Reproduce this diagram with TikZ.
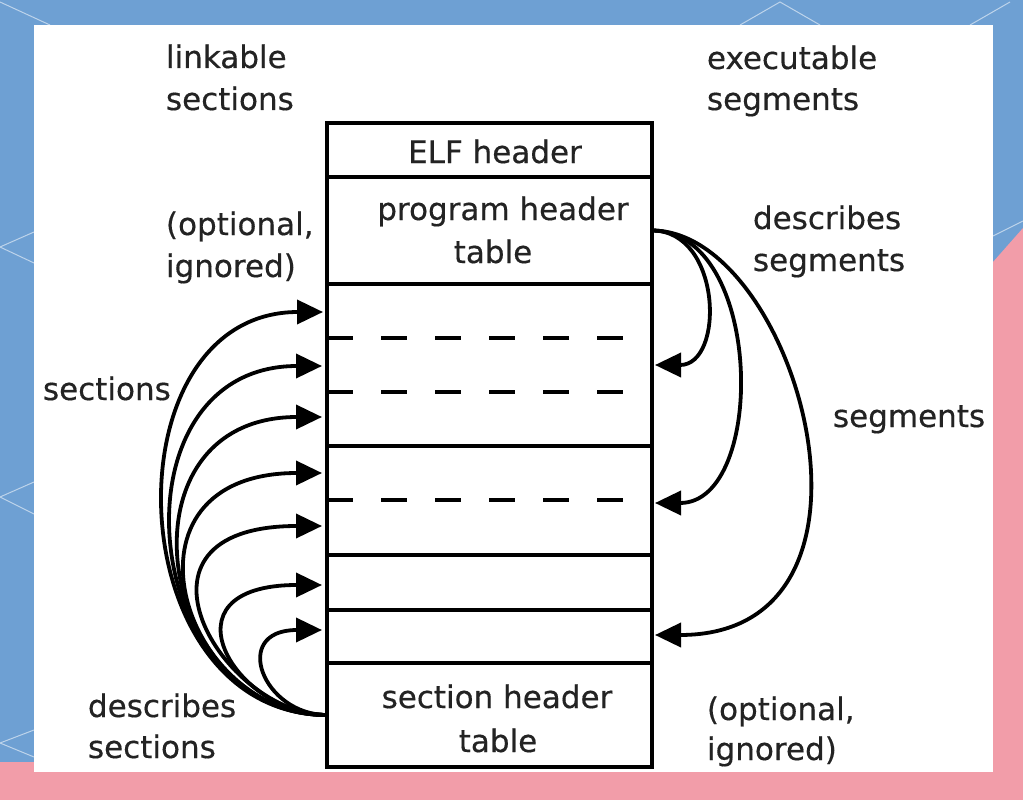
\documentclass[tikz,border=0pt]{standalone}
\usepackage{fontspec}
\setmainfont{DejaVu Sans}
\newfontfamily\dvs{DejaVu Sans}[FakeBold=0.4]
\usetikzlibrary{arrows.meta}
\definecolor{bgblue}{HTML}{6EA0D3}
\definecolor{bgpink}{HTML}{F29DA9}
\definecolor{txt}{HTML}{232323}
\begin{document}
\begin{tikzpicture}[x=1pt,y=-1pt,
  lbl/.style={anchor=base west, inner sep=0pt, outer sep=0pt, text=txt, font=\dvs\fontsize{31}{40}\selectfont},
  ctr/.style={anchor=base, inner sep=0pt, outer sep=0pt, text=txt, font=\dvs\fontsize{31}{40}\selectfont},
  part/.style={draw=black, line width=3.8pt, minimum width=325pt, inner sep=0pt, outer sep=0pt},
  divline/.style={line width=4pt, dash pattern=on 26pt off 28pt},
  arr/.style={line width=3.8pt, -{Triangle[length=26pt,width=24pt]}},
  lattice/.style={draw=white, opacity=0.55, line width=1pt},
]
\useasboundingbox (0,0) rectangle (1023,800);
% background
\fill[bgblue] (0,0) rectangle (1023,800);
\fill[bgpink] (0,800) -- (0,762) -- (993,762) -- (993,262) -- (1023,228) -- (1023,800) -- cycle;
\path[lattice] (0,2) -- (50,25);
\path[lattice] (34,232) -- (0,247) -- (34,263);
\path[lattice] (34,482) -- (0,497) -- (34,514);
\path[lattice] (34,730) -- (0,743) -- (34,757);
\path[lattice] (740,25) -- (780,2) -- (820,25);
\path[lattice] (970,25) -- (1010,2);
\path[lattice] (993,236) -- (1023,221);
% white panel
\fill[white] (34,25) rectangle (993,772);

% layout parts
\node[part, minimum height=54pt]  (elf) at (489.5,150) {};
\node[part, minimum height=107pt] (pht) at (489.5,230.5) {};
\node[part, minimum height=162pt] (s1)  at (489.5,365) {};
\node[part, minimum height=109pt] (s2)  at (489.5,500.5) {};
\node[part, minimum height=55pt]  (s3)  at (489.5,582.5) {};
\node[part, minimum height=53pt]  (s4)  at (489.5,636.5) {};
\node[part, minimum height=104pt] (sht) at (489.5,715) {};

\draw[divline] (327,338) -- (625,338);
\draw[divline] (327,392) -- (625,392);
\draw[divline] (327,500) -- (625,500);

% texts in the parts
\node[ctr] (elft) at (495,163) {ELF header};
\node[ctr] (phta) at (503,220) {program header};
\node[ctr] (phtb) at (493,263) {table};
\node[ctr] (shta) at (497,708) {section header};
\node[ctr] (shtb) at (498,752) {table};

% side labels
\node[lbl] (lk1) at (166,68) {linkable};
\node[lbl] (lk2) at (166,110) {sections};
\node[lbl] (ex1) at (707,69) {executable};
\node[lbl] (ex2) at (707,110) {segments};
\node[lbl] (op1) at (166,235) {(optional,};
\node[lbl] (op2) at (166,277) {ignored)};
\node[lbl] (ds1) at (753,229) {describes};
\node[lbl] (ds2) at (753,271) {segments};
\node[lbl] (sec) at (43,400) {sections};
\node[lbl] (seg) at (833,427) {segments};
\node[lbl] (dc1) at (88,717) {describes};
\node[lbl] (dc2) at (88,758) {sections};
\node[lbl] (oq1) at (707,720) {(optional,};
\node[lbl] (oq2) at (707,760) {ignored)};

% arrow targets
\coordinate (l1) at (323,312);
\coordinate (l2) at (322,366);
\coordinate (l3) at (322,417);
\coordinate (l4) at (322,473);
\coordinate (l5) at (322,526);
\coordinate (l6) at (322,585);
\coordinate (l7) at (322,630);
\coordinate (r1) at (655,365);
\coordinate (r2) at (655,503);
\coordinate (r3) at (655,635);

% section header table describes sections
\draw[arr] (sht.west) .. controls +(-210,0) and +(-218,0) .. (l1);
\draw[arr] (sht.west) .. controls +(-190,0) and +(-214,0) .. (l2);
\draw[arr] (sht.west) .. controls +(-172,0) and +(-210,0) .. (l3);
\draw[arr] (sht.west) .. controls +(-148,0) and +(-214,0) .. (l4);
\draw[arr] (sht.west) .. controls +(-105,0) and +(-212,0) .. (l5);
\draw[arr] (sht.west) .. controls +(-92,0) and +(-165,0) .. (l6);
\draw[arr] (sht.west) .. controls +(-64,0) and +(-92,0) .. (l7);

% program header table describes segments
\draw[arr] (pht.east) .. controls +(70,0) and +(70,0) .. (r1);
\draw[arr] (pht.east) .. controls +(112,0) and +(112,0) .. (r2);
\draw[arr] (pht.east) .. controls +(145,0) and +(255,0) .. (r3);
\end{tikzpicture}
\end{document}
